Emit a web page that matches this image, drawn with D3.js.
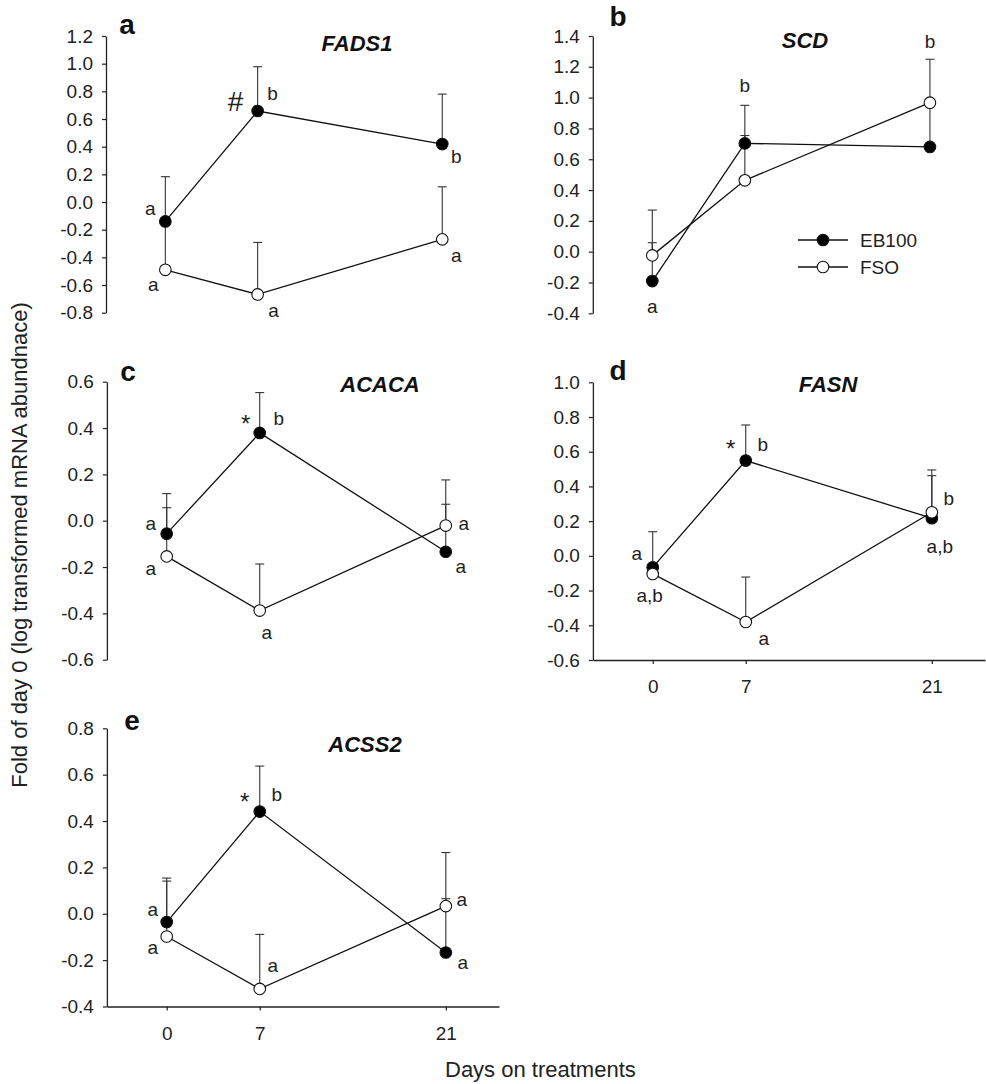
<!DOCTYPE html>
<html><head><meta charset="utf-8">
<script src="https://cdn.jsdelivr.net/npm/d3@7"></script>
<style>
body{margin:0;background:#fff;}
svg{display:block;font-family:"Liberation Sans",Arial,sans-serif;}
</style></head>
<body><svg id="c" width="986" height="1084"></svg>
<script>
// ---------- data ----------
const days = [0, 7, 21];
const genes = ["FADS1", "SCD", "ACACA", "FASN", "ACSS2"];
const panelLetters = ["a", "b", "c", "d", "e"];
const seriesNames = ["EB100", "FSO"];

const fads1EB = [-0.14, 0.658, 0.419];
const fads1EBerr = [0.323, 0.32, 0.361];
const fads1FSO = [-0.49, -0.668, -0.27];
const fads1FSOerr = [0.35, 0.376, 0.38];

const scdEB = [-0.191, 0.703, 0.68];
const scdEBerr = [0.249, 0.247, 0.287];
const scdFSO = [-0.024, 0.463, 0.967];
const scdFSOerr = [0.294, 0.291, 0.282];

const acacaEB = [-0.056, 0.379, -0.134];
const acacaEBerr = [0.173, 0.174, 0.205];
const acacaFSO = [-0.154, -0.388, -0.021];
const acacaFSOerr = [0.21, 0.201, 0.197];

const fasnEB = [-0.066, 0.549, 0.217];
const fasnEBerr = [0.205, 0.205, 0.245];
const fasnFSO = [-0.104, -0.381, 0.251];
const fasnFSOerr = [0.04, 0.259, 0.244];

const acss2EB = [-0.036, 0.441, -0.167];
const acss2EBerr = [0.19, 0.196, 0.232];
const acss2FSO = [-0.098, -0.324, 0.033];
const acss2FSOerr = [0.239, 0.235, 0.231];

const fads1Ticks = [-0.8, -0.6, -0.4, -0.2, 0.0, 0.2, 0.4, 0.6, 0.8, 1.0, 1.2];
const scdTicks = [-0.4, -0.2, 0.0, 0.2, 0.4, 0.6, 0.8, 1.0, 1.2, 1.4];
const acacaTicks = [-0.6, -0.4, -0.2, 0.0, 0.2, 0.4, 0.6];
const fasnTicks = [-0.6, -0.4, -0.2, 0.0, 0.2, 0.4, 0.6, 0.8, 1.0];
const acss2Ticks = [-0.4, -0.2, 0.0, 0.2, 0.4, 0.6, 0.8];
const xTicks = [0, 7, 21];
const xDomain = [-4.5, 25];

// significance letters: [day index, series index, text]
const fads1Notes = [[0,0,"a"],[0,1,"a"],[1,0,"#"],[1,0,"b"],[2,0,"b"],[1,1,"a"],[2,1,"a"]];
const scdNotes = [[0,0,"a"],[1,0,"b"],[2,1,"b"]];
const acacaNotes = [[1,0,"*"],[1,0,"b"],[0,0,"a"],[0,1,"a"],[1,1,"a"],[2,1,"a"],[2,0,"a"]];
const fasnNotes = [[1,0,"*"],[1,0,"b"],[0,0,"a"],[0,1,"a,b"],[1,1,"a"],[2,1,"b"],[2,0,"a,b"]];
const acss2Notes = [[1,0,"*"],[1,0,"b"],[0,0,"a"],[0,1,"a"],[1,1,"a"],[2,1,"a"],[2,0,"a"]];

const xLabel = "Days on treatments";
const yLabel = "Fold of day 0 (log transformed mRNA abundnace)";

// ---------- layout / style ----------
const panels = [
  {eb:fads1EB, ebErr:fads1EBerr, fso:fads1FSO, fsoErr:fads1FSOerr, ticks:fads1Ticks, notes:fads1Notes,
   box:{l:106, r:495, t:36, b:312.7}, xAxis:false, title:[357,43], letter:[127,26],
   off:[[-15,-12,"p"],[-12,15,"p"],[-22,-10,"p"],[15,-17,"p"],[14,13,"p"],[16,17,"p"],[14,17,"p"]]},
  {eb:scdEB, ebErr:scdEBerr, fso:scdFSO, fsoErr:scdFSOerr, ticks:scdTicks, notes:scdNotes,
   box:{l:592.8, r:982.8, t:36, b:313.3}, xAxis:false, title:[805,40], letter:[618,18], legend:true,
   off:[[0,26,"p"],[0,-19,"e"],[0,-17,"e"]]},
  {eb:acacaEB, ebErr:acacaEBerr, fso:acacaFSO, fsoErr:acacaFSOerr, ticks:acacaTicks, notes:acacaNotes,
   box:{l:106.9, r:498.9, t:381.7, b:659.7}, xAxis:false, title:[380,384], letter:[128,373],
   off:[[-14,-16,"p"],[19,-14,"p"],[-16,-9,"p"],[-16,13,"p"],[7,23,"p"],[18,-1,"p"],[15,16,"p"]]},
  {eb:fasnEB, ebErr:fasnEBerr, fso:fasnFSO, fsoErr:fasnFSOerr, ticks:fasnTicks, notes:fasnNotes,
   box:{l:592.9, r:985, t:382.3, b:660}, xAxis:true, title:[828,384], letter:[618,372],
   off:[[-15,-18,"p"],[17,-15,"p"],[-16,-13,"p"],[-3,22,"p"],[18,17,"p"],[17,-13,"p"],[8,29,"p"]]},
  {eb:acss2EB, ebErr:acss2EBerr, fso:acss2FSO, fsoErr:acss2FSOerr, ticks:acss2Ticks, notes:acss2Notes,
   box:{l:106.9, r:499, t:728.3, b:1006.5}, xAxis:true, title:[365,744], letter:[132,722],
   off:[[-15,-16,"p"],[17,-16,"p"],[-14,-12,"p"],[-14,12,"p"],[13,-23,"p"],[16,-6,"p"],[17,11,"p"]]}
];

const FONT = 19;
const svg = d3.select("#c");
const loc = d3.formatLocale({decimal:".", thousands:",", grouping:[3], currency:["",""], minus:"-"});
const fmt = loc.format(".1f");

panels.forEach((p, i) => {
  const x = d3.scaleLinear().domain(xDomain).range([p.box.l, p.box.r]);
  const y = d3.scaleLinear().domain([d3.min(p.ticks), d3.max(p.ticks)]).range([p.box.b, p.box.t]);
  const g = svg.append("g");

  // y axis
  const ya = g.append("g").attr("transform", `translate(${p.box.l},0)`)
    .call(d3.axisLeft(y).tickValues(p.ticks).tickFormat(fmt).tickSize(4).tickSizeOuter(0).tickPadding(9));
  ya.select(".domain").attr("stroke", "#222").attr("stroke-width", 1.3);
  ya.selectAll(".tick line").attr("stroke", "#222").attr("stroke-width", 1.2);
  ya.selectAll("text").attr("font-size", FONT).attr("fill", "#222").attr("font-family", "Liberation Sans, Arial, sans-serif");

  if (p.xAxis) {
    const xa = g.append("g").attr("transform", `translate(0,${p.box.b})`)
      .call(d3.axisBottom(x).tickValues(xTicks).tickFormat(d3.format("d")).tickSize(4).tickSizeOuter(0).tickPadding(16));
    xa.select(".domain").attr("stroke", "#222").attr("stroke-width", 1.3);
    xa.selectAll(".tick line").attr("stroke", "#222").attr("stroke-width", 1.2);
    xa.selectAll("text").attr("font-size", FONT).attr("fill", "#222").attr("font-family", "Liberation Sans, Arial, sans-serif");
  }

  const series = [
    {v: p.eb, e: p.ebErr, fill: "#000"},
    {v: p.fso, e: p.fsoErr, fill: "#fff"}
  ];

  // error bars (upper only)
  series.forEach(s => {
    s.v.forEach((v, k) => {
      const top = v + s.e[k];
      g.append("line").attr("x1", x(days[k])).attr("x2", x(days[k]))
        .attr("y1", y(v)).attr("y2", y(top)).attr("stroke", "#333").attr("stroke-width", 1.1);
      g.append("line").attr("x1", x(days[k]) - 4.5).attr("x2", x(days[k]) + 4.5)
        .attr("y1", y(top)).attr("y2", y(top)).attr("stroke", "#333").attr("stroke-width", 1.1);
    });
  });

  // lines
  const line = d3.line().x((d, k) => x(days[k])).y(d => y(d));
  series.forEach(s => {
    g.append("path").attr("d", line(s.v)).attr("fill", "none").attr("stroke", "#111").attr("stroke-width", 1.3);
  });

  // markers
  series.forEach(s => {
    g.selectAll(null).data(s.v).enter().append("circle")
      .attr("cx", (d, k) => x(days[k])).attr("cy", d => y(d)).attr("r", 5.8)
      .attr("fill", s.fill).attr("stroke", "#111").attr("stroke-width", 1.1);
  });

  // annotations
  p.notes.forEach((n, j) => {
    const [di, si, txt] = n;
    const s = series[si];
    const o = p.off[j];
    const base = o[2] === "e" ? s.v[di] + s.e[di] : s.v[di];
    g.append("text").attr("x", x(days[di]) + o[0]).attr("y", y(base) + o[1])
      .attr("text-anchor", "middle")
      .attr("dy", txt === "*" ? "0.62em" : (txt === "#" ? "0.36em" : "0.3em"))
      .attr("font-size", txt === "#" ? 28 : (txt === "*" ? 24 : FONT))
      .attr("fill", "#222").text(txt);
  });

  // title
  g.append("text").attr("x", p.title[0]).attr("y", p.title[1]).attr("dy", "0.36em")
    .attr("text-anchor", "middle").attr("font-size", 22).attr("font-weight", "bold")
    .attr("font-style", "italic").attr("fill", "#111").text(genes[i]);
  // panel letter
  g.append("text").attr("x", p.letter[0]).attr("y", p.letter[1]).attr("dy", "0.3em")
    .attr("text-anchor", "middle").attr("font-size", 28).attr("font-weight", "bold")
    .attr("fill", "#111").text(panelLetters[i]);

  // legend
  if (p.legend) {
    const ly = [240, 267];
    seriesNames.forEach((nm, k) => {
      g.append("line").attr("x1", 798).attr("x2", 848).attr("y1", ly[k]).attr("y2", ly[k])
        .attr("stroke", "#111").attr("stroke-width", 1.3);
      g.append("circle").attr("cx", 823).attr("cy", ly[k]).attr("r", 5.8)
        .attr("fill", series[k].fill).attr("stroke", "#111").attr("stroke-width", 1.1);
      g.append("text").attr("x", 860).attr("y", ly[k]).attr("dy", "0.36em")
        .attr("font-size", FONT).attr("fill", "#222").text(nm);
    });
  }
});

// axis titles
svg.append("text").attr("x", 445).attr("y", 1069).attr("dy", "0.36em")
  .attr("font-size", 22).attr("fill", "#222").text(xLabel);
svg.append("text").attr("transform", "translate(19,545) rotate(-90)").attr("dy", "0.36em")
  .attr("text-anchor", "middle").attr("font-size", 22).attr("fill", "#222").text(yLabel);
</script>
</body></html>
